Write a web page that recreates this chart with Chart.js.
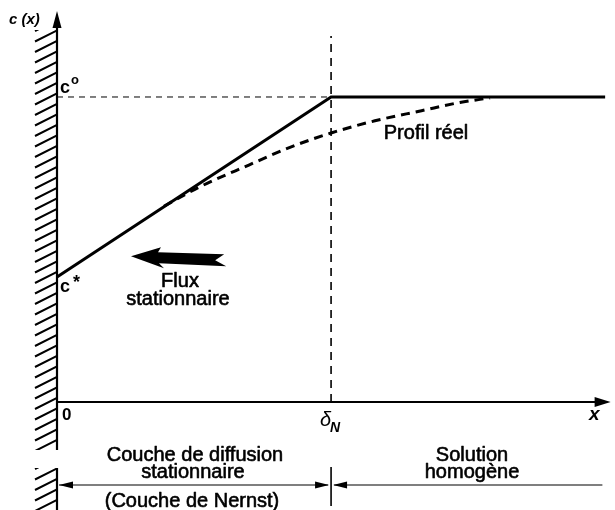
<!DOCTYPE html>
<html>
<head>
<meta charset="utf-8">
<script src="https://cdn.jsdelivr.net/npm/chart.js@4/dist/chart.umd.min.js"></script>
<style>html,body{margin:0;padding:0;background:#fff}canvas{display:block}</style>
</head>
<body>
<canvas id="c" width="615" height="510"></canvas>
<script>
// ---- data (dimensionless: x in units of delta_N, c in units of c°) ----
const profileX = [0, 1, 2.0];
const profileY = [0.41, 1, 1];
const realX = [0.39, 0.52, 0.70, 0.85, 1.0, 1.16, 1.33, 1.47, 1.58];
const realY = [0.642, 0.705, 0.777, 0.835, 0.882, 0.922, 0.955, 0.982, 0.997];
const guideHX = [0, 1];
const guideHY = [1, 1];
const guideVX = [1, 1];
const guideVY = [0, 1.20];
const axisLabels = ['c (x)', 'x', '0', 'c°', 'c*', 'δ', 'N'];
const regionLabels = [['Couche de diffusion', 'stationnaire'], ['Solution', 'homogène'], ['(Couche de Nernst)']];
const noteLabels = ['Profil réel', 'Flux', 'stationnaire'];

const pts = (xs, ys) => xs.map((x, i) => ({x, y: ys[i]}));
const FONT = '"Liberation Sans", Arial, Helvetica, sans-serif';

const deco = {
  id: 'deco',
  afterDatasetsDraw(chart) {
    const ctx = chart.ctx;
    const X = v => chart.scales.x.getPixelForValue(v);
    const Y = v => chart.scales.y.getPixelForValue(v);
    const x0 = X(0), y0 = Y(0), xd = X(1);
    ctx.save();
    ctx.strokeStyle = '#000';
    ctx.fillStyle = '#000';
    ctx.lineCap = 'butt';

    // y axis (two pieces)
    ctx.lineWidth = 2.2;
    ctx.beginPath();
    ctx.moveTo(x0, 22); ctx.lineTo(x0, 450);
    ctx.moveTo(x0, 468); ctx.lineTo(x0, 510);
    ctx.stroke();
    ctx.beginPath();
    ctx.moveTo(x0, 11); ctx.lineTo(x0 - 4.5, 28); ctx.lineTo(x0 + 4.5, 28); ctx.closePath(); ctx.fill();

    // x axis
    const xEnd = X(2.02);
    ctx.lineWidth = 2;
    ctx.beginPath(); ctx.moveTo(x0, y0); ctx.lineTo(xEnd - 10, y0); ctx.stroke();
    ctx.beginPath();
    ctx.moveTo(xEnd, y0); ctx.lineTo(xEnd - 16, y0 - 5); ctx.lineTo(xEnd - 16, y0 + 5); ctx.closePath(); ctx.fill();

    // hatching
    ctx.lineWidth = 2;
    const hatch = (top, bot) => {
      ctx.save();
      ctx.beginPath(); ctx.rect(x0 - 26, top, 26, bot - top); ctx.clip();
      ctx.beginPath();
      for (let y = top - 10; y < bot + 12; y += 10.5) {
        ctx.moveTo(x0 - 22, y + 11); ctx.lineTo(x0, y);
      }
      ctx.stroke();
      ctx.restore();
    };
    hatch(30, 450);
    hatch(468, 510);

    // flux arrow (tapered, notched tail)
    const ay = Y(0.475), tipX = X(0.27), tailX = X(0.61);
    ctx.beginPath();
    ctx.moveTo(tipX, ay - 1);
    ctx.lineTo(tipX + 30, ay - 10);
    ctx.lineTo(tipX + 27, ay - 5);
    ctx.lineTo(tailX, ay - 3);
    ctx.lineTo(tailX - 9, ay + 3);
    ctx.lineTo(tailX + 2, ay + 9);
    ctx.lineTo(tipX + 28, ay + 6);
    ctx.lineTo(tipX + 33, ay + 11);
    ctx.closePath();
    ctx.fill();

    // bottom double arrows
    const by = 485;
    ctx.lineWidth = 1.2;
    ctx.beginPath();
    ctx.moveTo(x0 + 2, by); ctx.lineTo(xd - 3, by);
    ctx.moveTo(xd + 3, by); ctx.lineTo(X(1.99), by);
    ctx.stroke();
    const head = (x, dir) => {
      ctx.beginPath();
      ctx.moveTo(x, by); ctx.lineTo(x - dir * 14, by - 3.5); ctx.lineTo(x - dir * 14, by + 3.5); ctx.closePath(); ctx.fill();
    };
    head(x0 + 2, -1);
    head(xd - 2, 1);
    head(xd + 2, -1);
    ctx.lineWidth = 1.6;
    ctx.beginPath(); ctx.moveTo(xd, 467); ctx.lineTo(xd, 506); ctx.stroke();

    // axis texts
    ctx.textBaseline = 'alphabetic';
    ctx.textAlign = 'left';
    ctx.font = 'italic bold 15px ' + FONT;
    ctx.fillText(axisLabels[0], 9, 24);
    ctx.font = 'italic bold 19px ' + FONT;
    ctx.fillText(axisLabels[1], 589, 420);
    ctx.font = 'bold 17px ' + FONT;
    ctx.fillText(axisLabels[2], 62, 420);
    ctx.font = 'bold 18px ' + FONT;
    ctx.fillText('c', x0 + 3, Y(1) - 4);
    ctx.font = 'bold 13px ' + FONT;
    ctx.fillText('o', x0 + 14, Y(1) - 13);
    ctx.font = 'bold 18px ' + FONT;
    ctx.fillText('c', x0 + 3, Y(0.41) + 15);
    ctx.fillText('*', x0 + 16, Y(0.41) + 11);
    ctx.font = 'italic 20px ' + FONT;
    ctx.fillText(axisLabels[5], xd - 11, 426);
    ctx.font = 'italic bold 14px ' + FONT;
    ctx.fillText(axisLabels[6], xd - 1, 432);

    // region / note texts (medium weight: regular fill + thin stroke)
    ctx.textAlign = 'center';
    ctx.font = '20px ' + FONT;
    ctx.lineWidth = 0.6;
    ctx.lineJoin = 'round';
    const t = (s, x, y) => { ctx.fillText(s, x, y); ctx.strokeText(s, x, y); };
    t(regionLabels[0][0], 195, 461);
    t(regionLabels[0][1], 193, 478);
    t(regionLabels[1][0], 472, 461);
    t(regionLabels[1][1], 472, 478);
    t(regionLabels[2][0], 192, 507);
    t(noteLabels[0], 426, 139);
    t(noteLabels[1], 180, 287);
    t(noteLabels[2], 178, 305);
    ctx.restore();
  }
};

new Chart(document.getElementById('c'), {
  type: 'scatter',
  data: {
    datasets: [
      { data: pts(guideHX, guideHY), showLine: true, borderColor: '#000', borderWidth: 1, borderDash: [6, 5], pointRadius: 0 },
      { data: pts(guideVX, guideVY), showLine: true, borderColor: '#000', borderWidth: 1.6, borderDash: [8, 6], pointRadius: 0 },
      { data: pts(realX, realY), showLine: true, borderColor: '#000', borderWidth: 3, borderDash: [9, 6], pointRadius: 0, cubicInterpolationMode: 'monotone' },
      { data: pts(profileX, profileY), showLine: true, borderColor: '#000', borderWidth: 3, pointRadius: 0 }
    ]
  },
  options: {
    responsive: false,
    animation: false,
    devicePixelRatio: 1,
    layout: { padding: 0 },
    plugins: { legend: { display: false }, tooltip: { enabled: false } },
    scales: {
      x: { type: 'linear', min: -0.208, max: 2.036, display: false },
      y: { type: 'linear', min: -0.354, max: 1.318, display: false }
    }
  },
  plugins: [deco]
});
</script>
</body>
</html>
